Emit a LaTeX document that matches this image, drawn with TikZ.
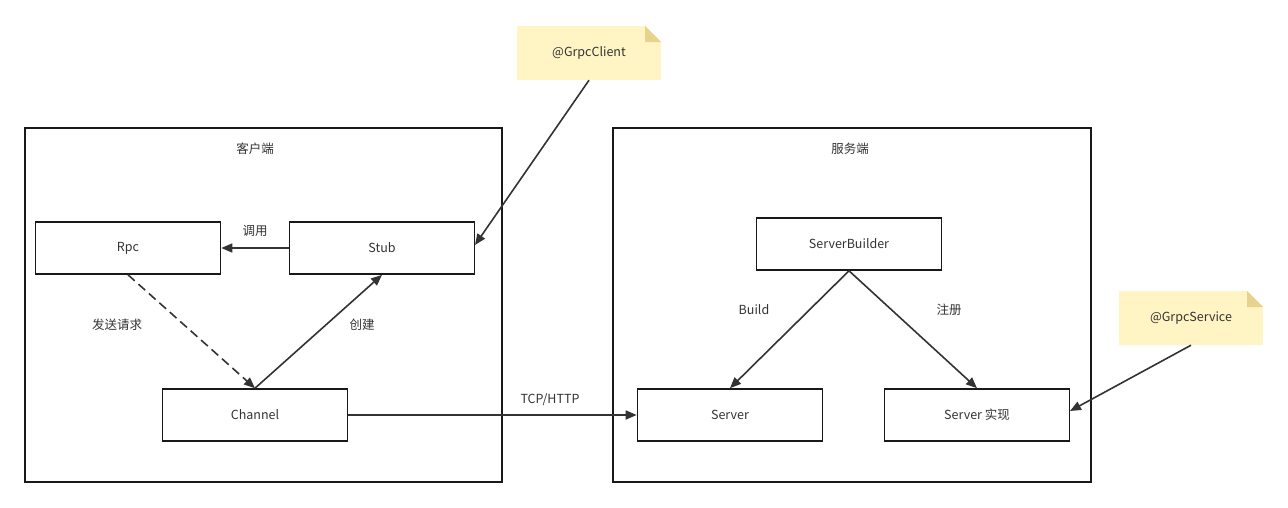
\documentclass[tikz,border=0pt]{standalone}
\usepackage{fontspec}
\setmainfont{Noto Sans CJK SC}
\usetikzlibrary{arrows.meta}
\definecolor{linecol}{HTML}{333333}
\definecolor{notefill}{HTML}{FFF4C3}
\definecolor{foldcol}{HTML}{E6D48C}
\tikzset{
    frame/.style = {draw=black!90, line width=1.6pt},
    box/.style = {draw=black!90, line width=1.6pt, minimum width=185pt, minimum height=52pt,
        inner sep=0pt, font=\fontsize{12.5}{14}\selectfont, text=linecol},
    lbl/.style = {font=\fontsize{12.5}{14}\selectfont, text=linecol, inner sep=0pt},
    note/.style = {fill=notefill, minimum width=144pt, minimum height=54pt, inner sep=0pt,
        font=\fontsize{12.5}{14}\selectfont, text=linecol,
        path picture = {
            \fill[white] (path picture bounding box.north east) -- ++(-16pt,0pt) -- ++(16pt,-16pt) -- cycle;
            \fill[foldcol] (path picture bounding box.north east) ++(-16pt,0pt) -- ++(0pt,-16pt) -- ++(16pt,0pt) -- cycle;
        }},
    arr/.style = {-{Stealth[length=11pt,width=9pt,inset=0pt]}, draw=linecol, line width=1.6pt}
}
\begin{document}
\begin{tikzpicture}[x=1pt,y=-1pt]
    \useasboundingbox (0,0) rectangle (1288,507);

    % client side
    \draw [frame] (25,128) rectangle (502,482);
    \node[lbl] (ctitle) at (255,149) {客户端};
    \node[box] (Rpc) at (128,248) {Rpc};
    \node[box] (Stub) at (382,248) {Stub};
    \node[box] (Channel) at (255,415) {Channel};

    % server side
    \draw [frame] (613,128) rectangle (1091,482);
    \node[lbl] (stitle) at (850,149) {服务端};
    \node[box] (Builder) at (849,244) {ServerBuilder};
    \node[box] (Server) at (730,415) {Server};
    \node[box] (Impl) at (977,415) {Server 实现};

    % annotations
    \node[note] (Client) at (589,53) {@GrpcClient};
    \node[note] (Service) at (1191,318) {@GrpcService};

    \draw [arr] (Stub.west)--(Rpc.east);
    \node[lbl] (call) at (255,231) {调用};

    \draw [arr, dashed, dash pattern=on 9pt off 5pt] (Rpc.south)--(Channel.north);
    \node[lbl] (send) at (117,325) {发送请求};

    \draw [arr] (Channel.north)--(Stub.south);
    \node[lbl] (create) at (362,325) {创建};

    \draw [arr] (Channel.east)--(Server.west);
    \node[lbl] (tcp) at (550,400) {TCP/HTTP};

    \draw [arr] (Builder.south)--(Server.north);
    \node[lbl] (build) at (754,310) {Build};
    \draw [arr] (Builder.south)--(Impl.north);
    \node[lbl] (reg) at (949,310) {注册};

    \coordinate (Stube) at (475,245);
    \coordinate (Imple) at (1070,411);
    \draw [arr] (Client.south)--(Stube);
    \draw [arr] (Service.south)--(Imple);

\end{tikzpicture}
\end{document}
